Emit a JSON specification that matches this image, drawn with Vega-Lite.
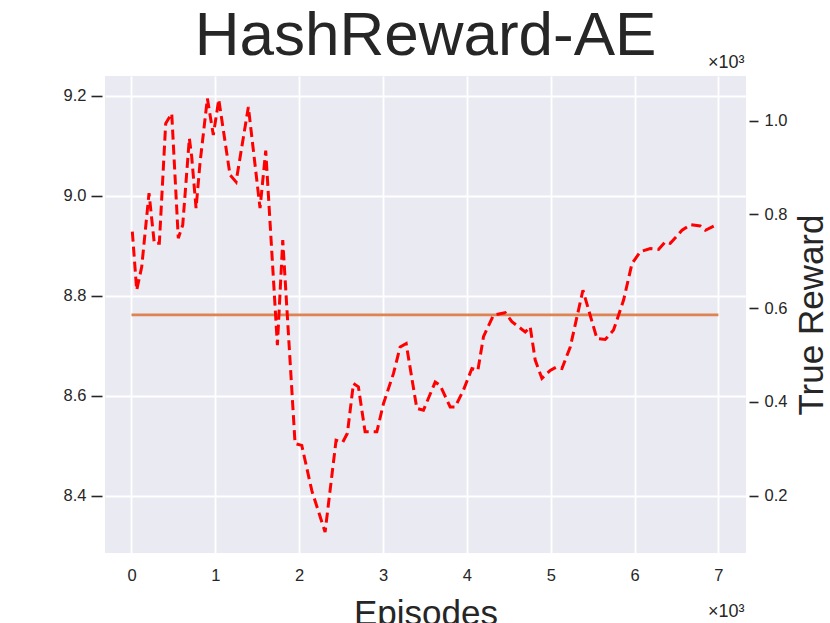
{
  "$schema": "https://vega.github.io/schema/vega-lite/v6.json",
  "width": 641,
  "height": 477,
  "autosize": "none",
  "padding": {"left": 105, "top": 76, "right": 84, "bottom": 70},
  "background": "white",
  "config": {
    "view": {"fill": "#EAEAF2", "stroke": null},
    "font": "Liberation Sans",
    "axis": {"labelFont": "Liberation Sans", "titleFont": "Liberation Sans", "labelColor": "#262626", "titleColor": "#262626", "titleFontWeight": "normal", "gridColor": "white", "gridWidth": 1.8, "gridOpacity": 1, "tickColor": "#262626", "domain": false}
  },
  "title": {"text": "HashReward-AE", "fontSize": 62, "font": "Liberation Sans", "fontWeight": "normal", "color": "#262626", "anchor": "middle", "frame": "group", "baseline": "alphabetic", "offset": 16, "dy": 80},
  "datasets": {
    "trueReward": [
      {"episode": 10, "reward": 763},
      {"episode": 62, "reward": 638},
      {"episode": 122, "reward": 688},
      {"episode": 209, "reward": 845},
      {"episode": 272, "reward": 738},
      {"episode": 332, "reward": 738},
      {"episode": 408, "reward": 994},
      {"episode": 480, "reward": 1015},
      {"episode": 558, "reward": 749},
      {"episode": 611, "reward": 777},
      {"episode": 690, "reward": 962},
      {"episode": 718, "reward": 923},
      {"episode": 770, "reward": 813},
      {"episode": 817, "reward": 909},
      {"episode": 905, "reward": 1047},
      {"episode": 976, "reward": 969},
      {"episode": 1041, "reward": 1045},
      {"episode": 1175, "reward": 884},
      {"episode": 1247, "reward": 869},
      {"episode": 1394, "reward": 1029},
      {"episode": 1533, "reward": 813},
      {"episode": 1601, "reward": 936},
      {"episode": 1740, "reward": 521},
      {"episode": 1804, "reward": 745},
      {"episode": 1951, "reward": 311},
      {"episode": 2031, "reward": 307},
      {"episode": 2150, "reward": 211},
      {"episode": 2309, "reward": 122},
      {"episode": 2440, "reward": 318},
      {"episode": 2520, "reward": 314},
      {"episode": 2575, "reward": 333},
      {"episode": 2647, "reward": 439},
      {"episode": 2706, "reward": 432},
      {"episode": 2786, "reward": 336},
      {"episode": 2926, "reward": 336},
      {"episode": 3005, "reward": 396},
      {"episode": 3124, "reward": 460},
      {"episode": 3204, "reward": 517},
      {"episode": 3276, "reward": 524},
      {"episode": 3403, "reward": 386},
      {"episode": 3482, "reward": 382},
      {"episode": 3622, "reward": 442},
      {"episode": 3681, "reward": 435},
      {"episode": 3801, "reward": 389},
      {"episode": 3860, "reward": 389},
      {"episode": 3959, "reward": 425},
      {"episode": 4060, "reward": 471},
      {"episode": 4131, "reward": 467},
      {"episode": 4198, "reward": 539},
      {"episode": 4317, "reward": 585},
      {"episode": 4457, "reward": 590},
      {"episode": 4537, "reward": 571},
      {"episode": 4696, "reward": 549},
      {"episode": 4755, "reward": 560},
      {"episode": 4815, "reward": 489},
      {"episode": 4895, "reward": 450},
      {"episode": 4994, "reward": 467},
      {"episode": 5066, "reward": 474},
      {"episode": 5134, "reward": 471},
      {"episode": 5233, "reward": 517},
      {"episode": 5384, "reward": 638},
      {"episode": 5551, "reward": 535},
      {"episode": 5650, "reward": 533},
      {"episode": 5749, "reward": 553},
      {"episode": 5869, "reward": 617},
      {"episode": 5969, "reward": 695},
      {"episode": 6068, "reward": 720},
      {"episode": 6187, "reward": 727},
      {"episode": 6286, "reward": 725},
      {"episode": 6366, "reward": 741},
      {"episode": 6426, "reward": 738},
      {"episode": 6566, "reward": 766},
      {"episode": 6665, "reward": 778},
      {"episode": 6784, "reward": 775},
      {"episode": 6844, "reward": 766},
      {"episode": 6983, "reward": 778}
    ],
    "hashReward": [
      {"episode": 0, "value": 8.762},
      {"episode": 7000, "value": 8.762}
    ]
  },
  "layer": [
    {
      "data": {"name": "hashReward"},
      "mark": {"type": "line", "color": "#DD8452", "strokeWidth": 2.8},
      "encoding": {
        "x": {"field": "episode", "type": "quantitative",
          "scale": {"domain": [-316, 7329], "nice": false, "zero": false},
          "axis": {"orient": "top", "labels": false, "ticks": false, "grid": false, "title": "×10³", "titleFontSize": 18, "titleX": 639, "titleY": -9, "titleAlign": "right", "titleBaseline": "alphabetic"}},
        "y": {"field": "value", "type": "quantitative",
          "scale": {"domain": [8.2856, 9.24], "nice": false, "zero": false},
          "axis": {"orient": "left", "values": [8.4, 8.6, 8.8, 9.0, 9.2], "format": ".1f", "grid": true, "ticks": true, "tickSize": 11, "tickWidth": 1.6, "offset": 3, "labelPadding": 5, "labelFontSize": 16.5,
            "title": "×10³", "titleFontSize": 18, "titleAngle": 0, "titleX": 642, "titleY": 540, "titleAlign": "right", "titleBaseline": "alphabetic"}}
      }
    },
    {
      "data": {"name": "trueReward"},
      "mark": {"type": "line", "color": "#FF0000", "strokeWidth": 3, "strokeDash": [10, 5]},
      "encoding": {
        "x": {"field": "episode", "type": "quantitative",
          "scale": {"domain": [-316, 7329], "nice": false, "zero": false},
          "axis": {"orient": "bottom", "values": [0, 1000, 2000, 3000, 4000, 5000, 6000, 7000], "labelExpr": "format(datum.value / 1000, 'd')", "grid": true, "ticks": false, "labelPadding": 14, "labelFontSize": 16.5,
            "title": "Episodes", "titleFontSize": 35, "titleY": 71, "titleBaseline": "alphabetic"}},
        "y": {"field": "reward", "type": "quantitative",
          "scale": {"domain": [77.5, 1095], "nice": false, "zero": false},
          "axis": {"orient": "right", "values": [200, 400, 600, 800, 1000], "labelExpr": "format(datum.value / 1000, '.1f')", "grid": false, "ticks": true, "tickSize": 9, "tickWidth": 1.6, "offset": 3, "labelPadding": 6, "labelFontSize": 16.5,
            "title": "True Reward", "titleFontSize": 35, "titleAngle": 270, "titleX": 73, "titleY": 238.5, "titleAlign": "center", "titleBaseline": "alphabetic"}}
      }
    }
  ],
  "resolve": {"scale": {"y": "independent"}, "axis": {"x": "independent", "y": "independent"}}
}
